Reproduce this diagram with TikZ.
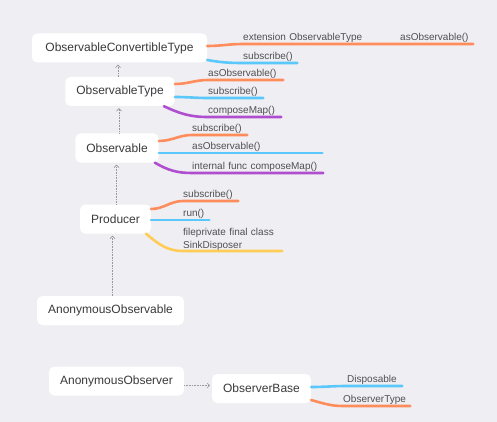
\documentclass[tikz,border=0pt]{standalone}
\usepackage{fontspec}
\setmainfont{Liberation Sans}
\usetikzlibrary{arrows.meta}

\definecolor{bgpaper}{HTML}{EFEEF3}
\definecolor{inkdark}{HTML}{3A3A3C}
\definecolor{inkgray}{HTML}{505052}
\definecolor{brorange}{HTML}{FF8D5C}
\definecolor{brblue}{HTML}{5AC8FA}
\definecolor{brpurple}{HTML}{AF4FCF}
\definecolor{bryellow}{HTML}{FFCC55}

\tikzset{
  box/.style={fill=white, rounded corners=5pt, text=inkdark,
    font=\fontsize{12}{14}\selectfont, minimum height=29pt, inner xsep=11pt},
  leaf/.style={text width=#1, align=left, anchor=south west, inner xsep=0pt,
    inner ysep=3.5pt, text depth=0pt, text=inkgray, font=\fontsize{10}{12.5}\selectfont},
  branch/.style={draw=#1, line width=2.6pt, line cap=round},
  dep/.style={gray!80, densely dotted, line width=0.6pt,
    -{Straight Barb[length=2.5pt,width=5pt]}, shorten >=2pt},
}

\begin{document}
\begin{tikzpicture}[x=1pt, y=-1pt]

\fill[bgpaper] (0,0) rectangle (497,422);

% ── CLASSES ─────────────────────────────────────────────
\node[box, minimum width=175pt] (oct) at (119.5,48) {ObservableConvertibleType};
\node[box] (ot) at (120,91.5) {ObservableType};
\node[box] (obs) at (117,148) {Observable};
\node[box] (prod) at (115.5,219) {Producer};
\node[box] (anobs) at (110.5,310.5) {AnonymousObservable};
\node[box] (anobsr) at (116.5,381) {AnonymousObserver};
\node[box] (obase) at (261.5,388.5) {ObserverBase};

% Inheritance chain
\draw[dep] ([xshift=-2pt]ot.north) -- ([xshift=-2pt]ot.north |- oct.south);
\draw[dep] ([xshift=2pt]obs.north) -- ([xshift=2pt]obs.north |- ot.south);
\draw[dep] ([xshift=1pt]prod.north) -- ([xshift=1pt]prod.north |- obs.south);
\draw[dep] ([xshift=2pt]anobs.north) -- ([xshift=2pt]anobs.north |- prod.south);
\draw[dep] ([yshift=-4.5pt]anobsr.east) -- ([yshift=-4.5pt]anobsr.east -| obase.west);

% ── MEMBERS ─────────────────────────────────────────────
% ObservableConvertibleType
\node[leaf=124pt] (oct-ext) at (243,44) {extension ObservableType};
\node[leaf=73pt] (oct-ext-as) at (400,44) {asObservable()};
\node[leaf=54pt] (oct-sub) at (243,63) {subscribe()};
\draw[branch=brorange] ([yshift=2pt]oct.east) to[out=0,in=180] (oct-ext.south west)
    -- (oct-ext.south east) -- (oct-ext-as.south west) -- (oct-ext-as.south east);
\draw[branch=brblue] ([yshift=-12pt]oct.east) to[out=-10,in=180] (oct-sub.south west)
    -- (oct-sub.south east);

% ObservableType
\node[leaf=75pt] (ot-as) at (208,80) {asObservable()};
\node[leaf=55pt] (ot-sub) at (208,98) {subscribe()};
\node[leaf=73pt] (ot-cm) at (208,117) {composeMap()};
\draw[branch=brorange] ([yshift=7.5pt]ot.east) to[out=0,in=180] (ot-as.south west) -- (ot-as.south east);
\draw[branch=brblue] ([yshift=-5.5pt]ot.east) to[out=0,in=180] (ot-sub.south west) -- (ot-sub.south east);
\draw[branch=brpurple] ([xshift=-11pt]ot.south east) to[out=-25,in=180] (ot-cm.south west) -- (ot-cm.south east);

% Observable
\node[leaf=55pt] (obs-sub) at (192,135) {subscribe()};
\node[leaf=130pt] (obs-as) at (192,153) {asObservable()};
\node[leaf=131pt] (obs-cm) at (192,173) {internal func composeMap()};
\draw[branch=brorange] ([yshift=7pt]obs.east) to[out=0,in=180] (obs-sub.south west) -- (obs-sub.south east);
\draw[branch=brblue] ([yshift=-5pt]obs.east) -- (obs-as.south west) -- (obs-as.south east);
\draw[branch=brpurple] ([xshift=-4pt]obs.south east) to[out=-30,in=180] (obs-cm.south west) -- (obs-cm.south east);

% Producer
\node[leaf=55pt] (prod-sub) at (183,201) {subscribe()};
\node[leaf=26pt] (prod-run) at (183,220) {run()};
\node[leaf=99pt, text depth=12.5pt, inner ysep=2.5pt] (prod-sink) at (183,251) {fileprivate final class\\SinkDisposer};
\draw[branch=brorange] ([yshift=10pt]prod.east) to[out=0,in=180] (prod-sub.south west) -- (prod-sub.south east);
\draw[branch=brblue] ([yshift=-1pt]prod.east) -- (prod-run.south west) -- (prod-run.south east);
\draw[branch=bryellow] ([xshift=-5pt]prod.south east) to[out=-40,in=180] (prod-sink.south west) -- (prod-sink.south east);

% ObserverBase
\node[leaf=55pt] (ob-disp) at (347,386) {Disposable};
\node[leaf=67pt] (ob-type) at (343,406) {ObserverType};
\draw[branch=brblue] ([yshift=1.5pt]obase.east) to[out=0,in=180] (ob-disp.south west) -- (ob-disp.south east);
\draw[branch=brorange] ([yshift=-11.5pt]obase.east) to[out=-15,in=180] (ob-type.south west) -- (ob-type.south east);

\end{tikzpicture}
\end{document}
